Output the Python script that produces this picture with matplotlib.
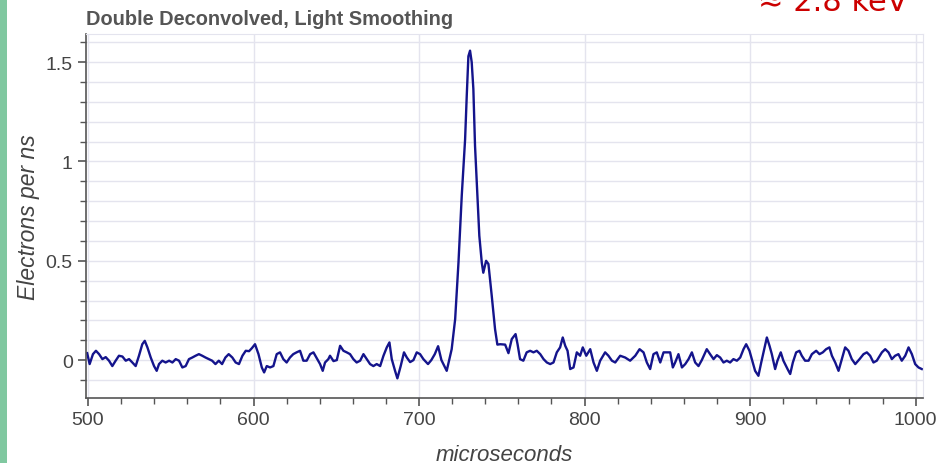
import numpy as np
import matplotlib.pyplot as plt
from matplotlib.ticker import MultipleLocator, FuncFormatter
from matplotlib.patches import Rectangle

# trace (time in microseconds, electrons per ns)
time_us = [
    499.5, 501.0, 503.0, 504.8, 506.7, 508.7, 510.7, 512.7, 514.7, 516.7,
    518.7, 520.8, 522.8, 524.8, 526.8, 528.8, 530.8, 532.8, 534.3, 535.9,
    537.9, 539.9, 541.5, 542.9, 544.9, 546.9, 549.0, 551.0, 553.0, 555.0,
    557.0, 559.0, 561.0, 563.0, 565.0, 567.0, 569.0, 571.0, 573.0, 575.0,
    577.0, 579.0, 581.0, 583.0, 585.0, 587.2, 589.2, 591.2, 593.3, 595.3,
    597.3, 599.0, 600.9, 603.0, 605.0, 606.4, 608.0, 610.0, 612.0, 614.0,
    616.0, 618.0, 620.0, 622.0, 624.0, 626.0, 628.1, 630.1, 632.1, 634.2,
    636.2, 638.2, 640.2, 641.8, 643.2, 645.2, 646.2, 648.3, 650.3, 652.3,
    654.3, 656.3, 658.3, 660.3, 662.3, 664.4, 666.4, 668.4, 670.4, 672.4,
    674.4, 676.5, 678.5, 680.5, 682.1, 683.5, 685.5, 686.9, 688.9, 690.9,
    692.6, 694.6, 696.6, 698.6, 700.6, 702.6, 705.4, 707.4, 709.5, 711.5,
    713.5, 716.7, 719.7, 721.8, 723.8, 725.8, 727.0, 727.8, 728.8, 729.8,
    730.8, 731.8, 732.8, 733.8, 735.2, 736.4, 737.9, 738.8, 740.5, 741.9,
    743.9, 745.9, 747.3, 749.0, 752.0, 754.0, 756.0, 758.3, 759.5, 761.0,
    763.0, 765.0, 767.1, 769.1, 771.1, 773.2, 775.2, 777.2, 779.2, 781.2,
    783.2, 785.2, 786.8, 788.3, 789.7, 791.3, 793.3, 795.3, 797.3, 798.9,
    801.0, 803.4, 805.4, 807.4, 809.4, 812.4, 814.4, 816.5, 818.5, 821.5,
    824.5, 827.5, 830.6, 833.2, 835.6, 837.6, 839.6, 841.6, 843.6, 845.7,
    847.7, 849.7, 851.7, 853.3, 854.7, 856.7, 858.8, 860.8, 862.8, 864.8,
    866.8, 868.8, 870.8, 873.8, 875.8, 877.9, 879.9, 881.9, 883.9, 885.9,
    887.9, 889.9, 892.0, 894.0, 896.0, 897.6, 899.6, 901.6, 903.0, 905.0,
    906.7, 908.5, 910.1, 911.7, 913.1, 915.1, 916.5, 918.5, 920.1, 922.6,
    924.2, 925.8, 927.8, 929.8, 931.2, 933.2, 935.3, 937.3, 939.9, 941.9,
    943.9, 945.9, 947.9, 949.4, 951.4, 953.4, 955.4, 957.4, 959.4, 961.4,
    963.5, 966.1, 968.5, 970.5, 972.5, 974.5, 976.5, 979.6, 981.6, 983.6,
    985.6, 987.6, 989.6, 991.6, 993.7, 995.7, 997.7, 999.7, 1001.7, 1003.7,
]
electrons = [
    0.035, -0.02, 0.03, 0.047, 0.03, 0.005, 0.015, -0.003, -0.03, -0.003,
    0.022, 0.018, -0.003, 0.005, -0.012, -0.03, 0.022, 0.08, 0.097, 0.064,
    0.013, -0.03, -0.054, -0.02, -0.003, -0.012, -0.003, -0.012, 0.005, -0.003,
    -0.037, -0.03, 0.005, 0.013, 0.022, 0.03, 0.022, 0.013, 0.005, -0.003,
    -0.02, -0.003, -0.02, 0.013, 0.03, 0.013, -0.012, -0.02, 0.022, 0.047,
    0.045, 0.06, 0.08, 0.03, -0.037, -0.062, -0.03, -0.037, -0.03, 0.03,
    0.039, 0.005, -0.012, 0.013, 0.03, 0.039, 0.047, -0.003, -0.003, 0.03,
    0.039, 0.01, -0.02, -0.054, -0.012, 0.005, 0.022, -0.005, 0.0, 0.072,
    0.047, 0.039, 0.03, 0.005, -0.012, -0.003, 0.03, 0.005, -0.02, -0.03,
    -0.02, -0.03, 0.022, 0.064, 0.089, 0.005, -0.054, -0.092, -0.03, 0.039,
    0.013, -0.01, 0.0, 0.039, 0.03, 0.005, -0.02, 0.0, 0.03, 0.07,
    0.0, -0.054, 0.055, 0.206, 0.49, 0.83, 1.0, 1.11, 1.33, 1.53,
    1.558, 1.50, 1.365, 1.08, 0.83, 0.626, 0.49, 0.44, 0.50, 0.484,
    0.324, 0.156, 0.078, 0.08, 0.078, 0.035, 0.106, 0.131, 0.08, 0.005,
    -0.003, 0.039, 0.047, 0.039, 0.047, 0.03, 0.005, -0.012, -0.02, -0.012,
    0.039, 0.064, 0.114, 0.072, 0.047, -0.045, -0.037, 0.039, 0.022, 0.064,
    0.022, 0.055, -0.012, -0.054, -0.003, 0.039, 0.022, -0.003, -0.012, 0.022,
    0.013, -0.003, 0.022, 0.055, 0.039, -0.012, -0.045, 0.03, 0.039, -0.012,
    0.039, 0.039, 0.039, -0.037, -0.012, 0.03, -0.037, -0.02, 0.005, 0.039,
    -0.012, -0.03, 0.0, 0.055, 0.03, 0.005, 0.025, 0.013, -0.012, -0.003,
    -0.012, 0.005, -0.003, 0.013, 0.055, 0.08, 0.047, -0.012, -0.054, -0.079,
    -0.012, 0.055, 0.114, 0.072, 0.03, -0.045, -0.003, 0.039, -0.003, -0.045,
    -0.07, -0.012, 0.039, 0.047, 0.022, -0.003, -0.003, 0.03, 0.047, 0.03,
    0.039, 0.055, 0.064, 0.022, -0.012, -0.054, 0.005, 0.064, 0.047, 0.005,
    -0.02, 0.005, 0.03, 0.039, 0.022, -0.012, -0.003, 0.039, 0.055, 0.039,
    0.005, 0.022, 0.03, -0.003, 0.022, 0.064, 0.03, -0.02, -0.037, -0.045,
]

title = 'Double Deconvolved, Light Smoothing'
energy_note = '≈ 2.8 keV'

plt.rcParams['font.family'] = ['Liberation Sans', 'DejaVu Sans']

fig = plt.figure(figsize=(9.41, 4.64), dpi=100)
ax = fig.add_axes([0.0914, 0.140, 0.8896, 0.7846])

ax.plot(time_us, electrons, color='#14148c', lw=1.7)

ax.set_xlim(498.8, 1004.5)
ax.set_ylim(-0.191, 1.642)

ax.xaxis.set_major_locator(MultipleLocator(100))
ax.xaxis.set_minor_locator(MultipleLocator(20))
ax.yaxis.set_major_locator(MultipleLocator(0.5))
ax.yaxis.set_minor_locator(MultipleLocator(0.1))
ax.yaxis.set_major_formatter(FuncFormatter(lambda v, p: '%g' % round(v, 2)))

ax.grid(True, which='major', color='#e4e4ee', lw=1.0)
ax.grid(True, which='minor', axis='y', color='#e4e4ee', lw=1.0)
ax.set_axisbelow(True)

for s in ['top', 'right']:
    ax.spines[s].set_color('#e4e4ee')
for s in ['left', 'bottom']:
    ax.spines[s].set_color('#555555')
    ax.spines[s].set_linewidth(1.2)

ax.tick_params(which='major', direction='out', length=6, width=1.2,
               color='#555555', labelcolor='#444444', labelsize=14)
ax.tick_params(which='minor', direction='out', length=4, width=1.0,
               color='#555555')

ax.set_xlabel('microseconds', fontsize=16, style='italic', color='#444444',
              labelpad=11)
ax.set_ylabel('Electrons per ns', fontsize=16.5, style='italic',
              color='#444444')

ax.set_title(title, loc='left', fontsize=14.4, fontweight='bold',
             color='#555555', pad=7)

# red note at the top right, clipped by the top edge as in the source
fig.text(0.965, 0.976, energy_note, color='#cc0000', fontsize=22,
         family='DejaVu Sans', ha='right', va='baseline')

# green strip along the left edge
fig.add_artist(Rectangle((0, 0), 7 / 941, 1, transform=fig.transFigure,
                         color='#80c8a0', lw=0))

fig.savefig('out.png', dpi=100)
